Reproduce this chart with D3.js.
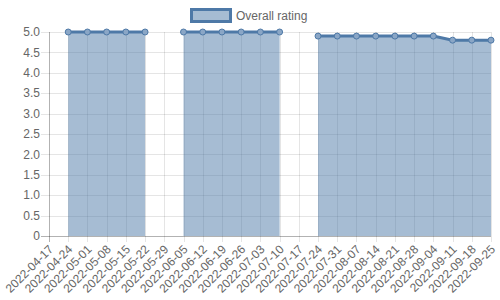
<!DOCTYPE html>
<html>
<head>
<meta charset="utf-8">
<script src="https://cdn.jsdelivr.net/npm/d3@7"></script>
<style>
  body { margin: 0; background: #fff; }
  svg text { font-family: "Liberation Sans", Arial, Helvetica, sans-serif; }
</style>
</head>
<body>
<svg id="chart" width="500" height="300"></svg>
<script>
// weekly dates on the x axis
var dates = ["2022-04-17", "2022-04-24", "2022-05-01", "2022-05-08", "2022-05-15",
             "2022-05-22", "2022-05-29", "2022-06-05", "2022-06-12", "2022-06-19",
             "2022-06-26", "2022-07-03", "2022-07-10", "2022-07-17", "2022-07-24",
             "2022-07-31", "2022-08-07", "2022-08-14", "2022-08-21", "2022-08-28",
             "2022-09-04", "2022-09-11", "2022-09-18", "2022-09-25"];
// null = no rating that week
var ratings = [null, 5, 5, 5, 5, 5, null, 5, 5, 5, 5, 5, 5, null,
               4.9, 4.9, 4.9, 4.9, 4.9, 4.9, 4.9, 4.8, 4.8, 4.8];
var yTicks = [0, 0.5, 1, 1.5, 2, 2.5, 3, 3.5, 4, 4.5, 5];
var seriesName = "Overall rating";

var LINE = "#4e79a7",
    FILL = "rgba(78,121,167,0.5)",
    GRID = "rgba(0,0,0,0.1)",
    AXIS = "rgba(0,0,0,0.3)",
    TEXT = "#666";

var svg = d3.select("#chart");
// plot area (window.top is reserved, so use other names)
var plotL = 49, plotR = 491, plotT = 32, plotB = 236;

var x = d3.scalePoint()
    .domain(dates)
    .range([plotL, plotR]);
var y = d3.scaleLinear()
    .domain([0, 5])
    .range([plotB, plotT]);

// horizontal grid + y ticks
var yg = svg.append("g");
yg.selectAll("line")
  .data(yTicks)
  .enter().append("line")
    .attr("x1", plotL - 8)
    .attr("x2", plotR)
    .attr("y1", function(d) { return Math.round(y(d)) + 0.5; })
    .attr("y2", function(d) { return Math.round(y(d)) + 0.5; })
    .attr("stroke", function(d) { return d === 0 ? AXIS : GRID; });
yg.selectAll("text")
  .data(yTicks)
  .enter().append("text")
    .attr("x", plotL - 9)
    .attr("y", function(d) { return y(d); })
    .attr("dy", "0.35em")
    .attr("text-anchor", "end")
    .attr("font-size", 12)
    .attr("fill", TEXT)
    .text(function(d) { return d === 0 ? "0" : d3.format(".1f")(d); });

// vertical grid + x ticks
var xg = svg.append("g");
xg.selectAll("line")
  .data(dates)
  .enter().append("line")
    .attr("x1", function(d) { return Math.round(x(d)) + 0.5; })
    .attr("x2", function(d) { return Math.round(x(d)) + 0.5; })
    .attr("y1", plotT)
    .attr("y2", plotB + 6)
    .attr("stroke", function(d, i) { return i === 0 ? AXIS : GRID; });
xg.selectAll("text")
  .data(dates)
  .enter().append("text")
    .attr("transform", function(d) {
        return "translate(" + (x(d) + 5) + "," + (plotB + 14) + ") rotate(-45)";
    })
    .attr("text-anchor", "end")
    .attr("font-size", 12)
    .attr("fill", TEXT)
    .text(function(d) { return d; });

var defined = function(d) { return d.v != null; };
var pts = dates.map(function(d, i) { return {k: d, v: ratings[i]}; });

// area fill down to zero, broken at gaps
svg.append("path")
    .datum(pts)
    .attr("fill", FILL)
    .attr("d", d3.area()
        .defined(defined)
        .x(function(d) { return x(d.k); })
        .y0(y(0))
        .y1(function(d) { return y(d.v); }));

svg.append("path")
    .datum(pts)
    .attr("fill", "none")
    .attr("stroke", LINE)
    .attr("stroke-width", 3)
    .attr("d", d3.line()
        .defined(defined)
        .x(function(d) { return x(d.k); })
        .y(function(d) { return y(d.v); }));

svg.append("g").selectAll("circle")
  .data(pts.filter(defined))
  .enter().append("circle")
    .attr("cx", function(d) { return x(d.k); })
    .attr("cy", function(d) { return y(d.v); })
    .attr("r", 3)
    .attr("fill", "#8aa6c6")
    .attr("stroke", LINE)
    .attr("stroke-width", 1);

// legend
var lg = svg.append("g");
lg.append("rect")
    .attr("x", 191.5).attr("y", 9.5)
    .attr("width", 39).attr("height", 12)
    .attr("fill", FILL)
    .attr("stroke", LINE)
    .attr("stroke-width", 3);
lg.append("text")
    .attr("x", 236).attr("y", 20)
    .attr("font-size", 12)
    .attr("fill", TEXT)
    .text(seriesName);
</script>
</body>
</html>
